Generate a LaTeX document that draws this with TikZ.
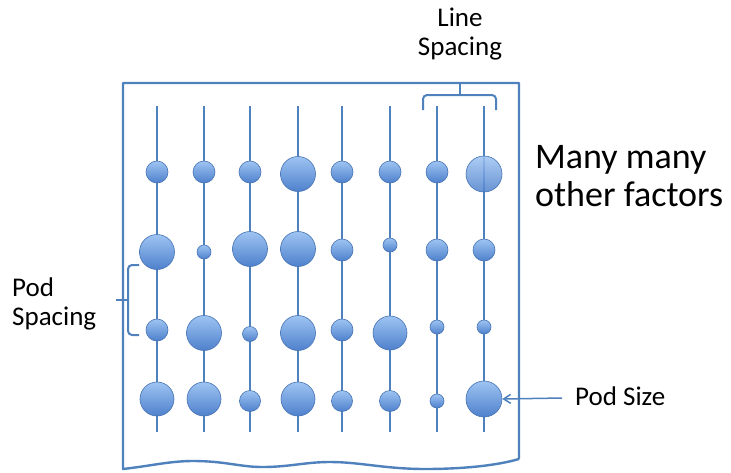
\documentclass[tikz,border=0pt]{standalone}
\usepackage{fontspec}
\setmainfont{Carlito}
\usetikzlibrary{arrows.meta}
\definecolor{stemblue}{RGB}{79,129,189}
\definecolor{podtop}{RGB}{158,196,242}
\definecolor{podbot}{RGB}{78,128,204}
\definecolor{podedge}{RGB}{70,115,180}
\tikzset{
  stemline/.style={draw=stemblue, line width=2.4pt},
  framebox/.style={draw=stemblue, line width=2.4pt, line join=round},
  brace/.style={draw=stemblue, line width=2pt, rounded corners=4pt},
  pod/.style={circle, inner sep=0pt, draw=podedge, line width=0.6pt, top color=podtop, bottom color=podbot},
  lbl/.style={inner sep=0pt, font=\fontsize{27}{29}\selectfont},
  biglbl/.style={inner sep=0pt, font=\fontsize{36}{38}\selectfont},
  pointer/.style={draw=stemblue, line width=1.5pt, -{Straight Barb[length=7pt,width=9pt]}}
}
\begin{document}
\begin{tikzpicture}[x=1pt,y=-1pt]
\path[fill=white] (0,0) rectangle (731,472);
\useasboundingbox (0,0) rectangle (731,472);
% frame with wavy bottom
\draw[framebox] (519,459) -- (519,83) -- (123,83) -- (123,469)
  .. controls (150,466) and (170,461) .. (193,461)
  .. controls (225,461) and (240,467) .. (262,467)
  .. controls (290,467) and (305,462) .. (330,462)
  .. controls (360,462) and (385,469) .. (425,469)
  .. controls (460,469) and (495,466) .. (519,459);
% stems
\foreach \c/\x in {1/157,2/204,3/250,4/298,5/342,6/390,7/437,8/484}{
  \coordinate (t\c) at (\x,106);
  \coordinate (b\c) at (\x,432);
  \draw[stemline] (t\c) -- (b\c);
}
% pods: row/col/x/y/radius
\foreach \r/\c/\x/\y/\s in {
  1/1/157/172/11, 1/2/204/172/11, 1/3/250/172/11, 1/4/298/174/17.5,
  1/5/342/172/11, 1/6/390/172/11, 1/7/437/172/11,
  2/1/157/252/17.5, 2/2/204/252/7, 2/3/250/249/17.5, 2/4/298/249/17.5,
  2/5/342/250/11, 2/6/390/245/7, 2/7/437/250/11, 2/8/484/250/11,
  3/1/157/330/11, 3/2/204/333/17.5, 3/3/250/334/7.5, 3/4/298/333/17.5,
  3/5/342/330/11, 3/6/390/333/17, 3/7/437/327/7, 3/8/484/327/7,
  4/1/157/399/17, 4/2/204/399/17, 4/3/250/401/10.5, 4/4/298/399/17,
  4/5/342/401/10.5, 4/6/390/401/10.5, 4/7/437/401/7, 4/8/484/399/18}{
  \node[pod, minimum size=2*\s pt] (c\r\c) at (\x,\y) {};
}
\node[pod, minimum size=36pt, fill opacity=0.85] (c18) at (484,174) {};
% line spacing brace
\coordinate (ls0) at (460,83);
\coordinate (ls1) at (460,95);
\draw[brace] (423,110) -- (423,95) -- (496,95) -- (496,110);
\draw[draw=stemblue, line width=2pt] (ls0) -- (ls1);
\node[lbl, align=center, anchor=base] (lsl) at (460,55) {Line\\Spacing};
% pod spacing brace
\coordinate (ps0) at (116,300);
\coordinate (ps1) at (128,300);
\draw[brace] (139,265) -- (128,265) -- (128,335) -- (139,335);
\draw[draw=stemblue, line width=2pt] (ps0) -- (ps1);
\node[lbl, align=left, anchor=base west] (psl) at (12,325) {Pod\\Spacing};
% many many other factors
\node[biglbl, align=left, anchor=base west] (mm) at (535,206) {Many many\\other factors};
% pod size
\node[lbl, anchor=base west] (pz) at (575,405) {Pod Size};
\coordinate (pzs) at (562,398);
\draw[pointer] (pzs) -- (c48.east);
\end{tikzpicture}
\end{document}
